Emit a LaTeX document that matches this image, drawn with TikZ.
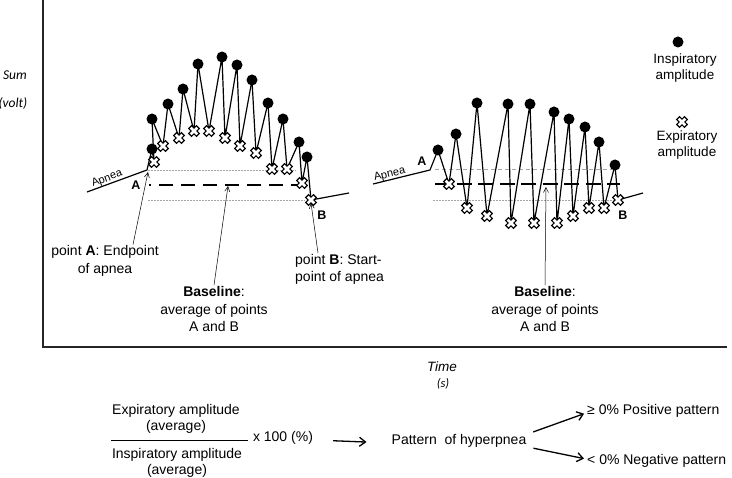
\documentclass[tikz,border=0pt]{standalone}
\usepackage{fontspec}
\setmainfont{Liberation Sans}
\newfontfamily\calfont{Carlito}
\usetikzlibrary{arrows.meta}

\begin{document}
\begin{tikzpicture}[
    x=1pt, y=-1pt,
    dot/.style     = {circle, fill, inner sep=0pt, minimum size=11pt},
    wave/.style    = {line width=1.2pt, line join=round},
    axis/.style    = {line width=1.4pt, black!85},
    lbl/.style     = {font=\fontsize{14}{17.5}\selectfont, align=center, inner sep=1pt},
    ptname/.style  = {font=\fontsize{12.5}{14}\selectfont\bfseries, inner sep=0pt},
    apnea/.style   = {font=\fontsize{11}{13}\selectfont, anchor=south, inner sep=0.5pt},
    axlbl/.style   = {font=\calfont\itshape\fontsize{13.5}{15}\selectfont, inner sep=0pt},
    guide/.style   = {gray!70, line width=0.6pt, dash pattern=on 1.5pt off 1.5pt},
    base/.style    = {line width=1.8pt},
    pointer/.style = {line width=0.5pt, -{Straight Barb[length=5pt, width=5pt]}},
    flow/.style    = {line width=1.3pt, -{Straight Barb[length=6pt, width=9pt]}},
    expmark/.pic   = {
      \draw[line width=5pt] (-4.3,-4.3) -- (4.3,4.3) (-4.3,4.3) -- (4.3,-4.3);
      \draw[white, line width=2.8pt] (-3.3,-3.3) -- (3.3,3.3) (-3.3,3.3) -- (3.3,-3.3);
    },
  ]

  \useasboundingbox (0,0) rectangle (732,478);

  % ---------- peaks / troughs (pixel positions) ----------
  \def\leftins{152/149,152/119,168/104,183/89,198/64,222/57,237/65,252/80,268/103,283/119,299/142,307/157}
  \def\leftexp{154/162,163/146,179/138,194/131,209/131,225/138,240/146,256/153,272/169,287/169,302/183,311/200}
  \def\rightins{438/150,456/134,477/103,508/104,530/104,554/112,569/119,585/127,599/142,615/165}
  \def\rightexp{449/184,467/208,487/216,511/223,534/223,557/223,573/216,589/208,604/208,618/200}

  \foreach \x/\y [count=\i] in \leftins  {\coordinate (li\i) at (\x,\y);}
  \foreach \x/\y [count=\i] in \leftexp  {\coordinate (le\i) at (\x,\y);}
  \foreach \x/\y [count=\i] in \rightins {\coordinate (ri\i) at (\x,\y);}
  \foreach \x/\y [count=\i] in \rightexp {\coordinate (re\i) at (\x,\y);}

  \coordinate (lstart) at (87,192);  \coordinate (lA) at (147,170);  \coordinate (lend) at (349,193);
  \coordinate (rstart) at (373,184); \coordinate (rA) at (430,170);  \coordinate (rend) at (643,193);

  % ---------- axes ----------
  \coordinate (O) at (43,347);
  \draw[axis] (43,0) -- (O) -- (727,347);
  \node[axlbl] (ysum)  at (15,75)  {Sum};
  \node[axlbl] (yvolt) at (13,104) {(volt)};
  \node[font=\itshape\fontsize{13.5}{15}\selectfont, inner sep=0pt] (xtime) at (442,367) {Time};
  \node[axlbl, font=\calfont\itshape\fontsize{12.5}{14}\selectfont] (xsec) at (443,384) {(s)};

  % ---------- left burst ----------
  \draw[guide] (148,170) -- (296,170);
  \draw[base, dash pattern=on 14pt off 8pt, dash phase=12pt] (149,185) -- (300,185);
  \draw[guide] (148,200) -- (305,200);

  \draw[wave] (lstart) -- (lA) \foreach \i in {1,...,12} { -- (li\i) -- (le\i) } -- (lend);
  \foreach \i in {1,...,12} {
    \node[dot] (ldot\i) at (li\i) {};
    \pic at (le\i) {expmark};
  }

  \node[apnea, rotate=20] (lapnea) at (109,184) {Apnea};
  \node[ptname] (lnameA) at (136,185) {A};
  \node[ptname] (lnameB) at (322,215) {B};

  % ---------- right burst ----------
  \draw[gray!70, line width=0.6pt, dash pattern=on 4pt off 3pt] (435,169) -- (612,169);
  \draw[base, dash pattern=on 15pt off 6.5pt] (435,184) -- (620,184);
  \draw[guide] (433,200) -- (617,200);

  \draw[wave] (rstart) -- (rA) \foreach \i in {1,...,10} { -- (ri\i) -- (re\i) } -- (rend);
  \foreach \i in {1,...,10} {
    \node[dot] (rdot\i) at (ri\i) {};
    \pic at (re\i) {expmark};
  }

  \node[apnea, rotate=14] (rapnea) at (391,180) {Apnea};
  \node[ptname] (rnameA) at (422,161) {A};
  \node[ptname] (rnameB) at (623,215) {B};

  % ---------- pointers and their labels ----------
  \coordinate (tipA) at (148,172);
  \coordinate (tipBase) at (228,186);
  \coordinate (tipB) at (311,203);
  \coordinate (rtipBase) at (546,187);

  \node[lbl] (lblA) at (105,261) {point \textbf{A}: Endpoint\\of apnea};
  \node[lbl] (lblBase) at (214,309) {\textbf{Baseline}:\\average of points\\A and B};
  \node[lbl, align=left, anchor=north west] (lblB) at (294,253) {point \textbf{B}: Start-\\point of apnea};
  \node[lbl] (rlblBase) at (545,309) {\textbf{Baseline}:\\average of points\\A and B};

  \draw[pointer] ([xshift=28pt]lblA.north) -- (tipA);
  \draw[pointer] (lblBase.north) -- (tipBase);
  \draw[pointer] ([xshift=24pt]lblB.north west) -- (tipB);
  \draw[pointer] (rlblBase.north) -- (rtipBase);

  % ---------- legend ----------
  \node[dot] (legdot) at (678,42) {};
  \node[lbl, font=\fontsize{13.5}{16}\selectfont] (legins) at (685,68) {Inspiratory\\amplitude};
  \pic at (682,122) {expmark};
  \node[lbl, font=\fontsize{13.5}{16}\selectfont] (legexp) at (687,145) {Expiratory\\amplitude};

  % ---------- ratio and pattern ----------
  \node[lbl, font=\fontsize{14}{15.5}\selectfont] (numer) at (176,419) {Expiratory amplitude\\(average)};
  \node[lbl, font=\fontsize{14}{15.5}\selectfont] (denom) at (177,463) {Inspiratory amplitude\\(average)};
  \draw[line width=1pt] (111,441) -- (248,441);
  \node[lbl] (times) at (283,438) {x 100 (\%)};
  \node[lbl] (pattern) at (459,441) {Pattern\ \ of hyperpnea};
  \node[lbl, anchor=west] (pos) at (586,411) {≥ 0\% Positive pattern};
  \node[lbl, anchor=west] (neg) at (586,461) {< 0\% Negative pattern};

  \draw[flow, shorten <=19pt, shorten >=24pt] ([yshift=-2pt]times.east) -- ([yshift=-2pt]pattern.west);
  \draw[flow, shorten <=6pt, shorten >=2pt] ([yshift=7pt]pattern.east) -- ([yshift=-2pt]pos.west);
  \draw[flow, shorten <=6pt, shorten >=2pt] ([yshift=-6pt]pattern.east) -- ([yshift=2pt]neg.west);

\end{tikzpicture}
\end{document}
